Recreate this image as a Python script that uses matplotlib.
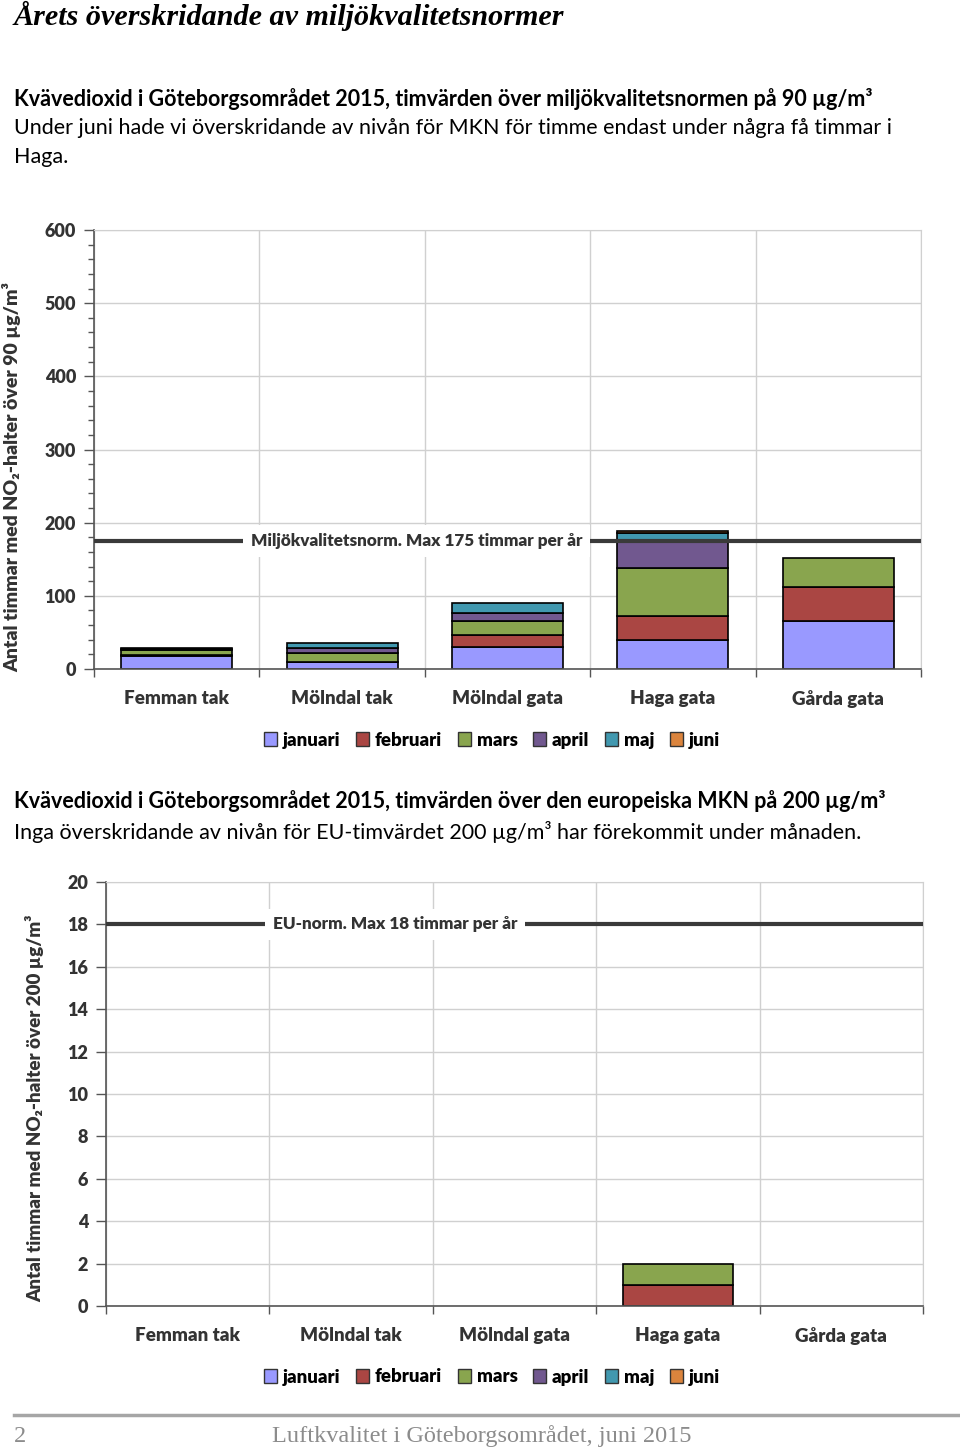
import numpy as np
import matplotlib
matplotlib.use("Agg")
import matplotlib.pyplot as plt
from matplotlib.patches import Patch

plt.rcParams['font.family'] = ['Lato', 'DejaVu Sans']

# ----------------------------------------------------------------------------------
# data
stations = ['Femman tak', 'Mölndal tak', 'Mölndal gata', 'Haga gata', 'Gårda gata']
months = ['januari', 'februari', 'mars', 'april', 'maj', 'juni']
month_colors = ['#9999FF', '#AA4643', '#89A54E', '#71588F', '#4198AF', '#DB843D']

# hours above 90 µg/m3
jan_90 = [18, 9, 30, 40, 65]
feb_90 = [1, 1, 17, 32, 47]
mar_90 = [7, 12, 19, 66, 40]
apr_90 = [2, 7, 11, 38, 0]
maj_90 = [1, 7, 13, 10, 0]
jun_90 = [0, 0, 0, 3, 0]

# hours above 200 µg/m3
jan_200 = [0, 0, 0, 0, 0]
feb_200 = [0, 0, 0, 1, 0]
mar_200 = [0, 0, 0, 1, 0]
apr_200 = [0, 0, 0, 0, 0]
maj_200 = [0, 0, 0, 0, 0]
jun_200 = [0, 0, 0, 0, 0]

mkn_norm = 175
eu_norm = 18

W, H = 960, 1452
TXT = '#333333'
BOLD = 'heavy'


def px_axes(fig, left, top, right, bottom):
    return fig.add_axes([left / W, 1 - bottom / H, (right - left) / W, (bottom - top) / H])


def draw_chart(ax, series, ymax, ystep, minor_step, norm, norm_label, label_x):
    x = np.arange(len(stations))
    bottom = np.zeros(len(stations))
    for vals, col in zip(series, month_colors):
        vals = np.array(vals, dtype=float)
        ax.bar(x, vals, width=0.67, bottom=bottom, color=col, edgecolor='black',
               linewidth=np.where(vals > 0, 1.2, 0), zorder=3)
        bottom += vals

    ax.set_xlim(-0.5, len(stations) - 0.5)
    ax.set_ylim(0, ymax)
    ax.set_yticks(np.arange(0, ymax + 1, ystep))
    if minor_step:
        ax.set_yticks(np.arange(0, ymax + 1, minor_step), minor=True)
    ax.set_xticks(x)
    ax.set_xticklabels(stations, fontweight=BOLD, fontsize=13.5, color=TXT)
    ax.set_xticks(np.arange(-0.5, len(stations), 1), minor=True)
    ax.tick_params(axis='x', which='major', length=0, pad=15)
    ax.tick_params(axis='x', which='minor', length=6, width=1, color='#555555', direction='out')
    ax.tick_params(axis='y', which='major', length=7, width=1, color='#555555', pad=6,
                   labelsize=13, labelcolor=TXT)
    ax.tick_params(axis='y', which='minor', length=4, width=1, color='#555555')
    for lab in ax.get_yticklabels():
        lab.set_fontweight(BOLD)

    ax.grid(axis='y', which='major', color='#d0d0d0', linewidth=1, zorder=0)
    ax.grid(axis='x', which='minor', color='#d0d0d0', linewidth=1, zorder=0)
    for s in ['top', 'right']:
        ax.spines[s].set_color('#d0d0d0')
    for s in ['left', 'bottom']:
        ax.spines[s].set_color('#555555')
        ax.spines[s].set_linewidth(1.2)
    ax.spines['bottom'].set_zorder(5)

    ax.axhline(norm, color='#3a3a3a', linewidth=3, zorder=4)
    ax.text(label_x, norm, norm_label, transform=ax.get_yaxis_transform(),
            ha='center', va='center', fontsize=12.3, fontweight=BOLD, color=TXT,
            bbox=dict(boxstyle='square,pad=0.45', facecolor='white', edgecolor='none'),
            zorder=6)


def draw_legend(fig, y):
    handles = [Patch(facecolor=c, edgecolor='#333333', linewidth=1) for c in month_colors]
    fig.legend(handles, months, loc='center', bbox_to_anchor=(492 / W, 1 - y / H), ncol=6,
               frameon=False, handlelength=0.7, handleheight=0.7, handletextpad=0.3,
               columnspacing=0.85, prop={'weight': BOLD, 'size': 13.4})


fig = plt.figure(figsize=(W / 100, H / 100), dpi=100)

# page texts
fig.text(14 / W, 1 - 16 / H, 'Årets överskridande av miljökvalitetsnormer', ha='left', va='center',
         fontsize=21.7, style='italic', fontweight='bold', family='Liberation Serif', color='black')
fig.text(14 / W, 1 - 99 / H,
         'Kvävedioxid i Göteborgsområdet 2015, timvärden över miljökvalitetsnormen på 90 µg/m³',
         ha='left', va='center', fontsize=15.5, fontweight='bold')
fig.text(14 / W, 1 - 128 / H,
         'Under juni hade vi överskridande av nivån för MKN för timme endast under några få timmar i',
         ha='left', va='center', fontsize=15.5)
fig.text(14 / W, 1 - 157 / H, 'Haga.', ha='left', va='center', fontsize=15.5)

fig.text(14 / W, 1 - 801 / H,
         'Kvävedioxid i Göteborgsområdet 2015, timvärden över den europeiska MKN på 200 µg/m³',
         ha='left', va='center', fontsize=15.5, fontweight='bold')
fig.text(14 / W, 1 - 832 / H,
         'Inga överskridande av nivån för EU-timvärdet 200 µg/m³ har förekommit under månaden.',
         ha='left', va='center', fontsize=15.5)

# chart 1
ax1 = px_axes(fig, 94, 230, 921, 669)
draw_chart(ax1, [jan_90, feb_90, mar_90, apr_90, maj_90, jun_90], 600, 100, 20,
           mkn_norm, 'Miljökvalitetsnorm. Max 175 timmar per år', 0.39)
fig.text(12 / W, 1 - 477 / H, 'Antal timmar med NO₂-halter över 90 µg/m³', rotation=90,
         ha='center', va='center', fontsize=14, fontweight=BOLD, color=TXT)
draw_legend(fig, 740)

# chart 2
ax2 = px_axes(fig, 106, 882, 923, 1306)
draw_chart(ax2, [jan_200, feb_200, mar_200, apr_200, maj_200, jun_200], 20, 2, None,
           eu_norm, 'EU-norm. Max 18 timmar per år', 0.354)
fig.text(35 / W, 1 - 1108 / H, 'Antal timmar med NO₂-halter över 200 µg/m³', rotation=90,
         ha='center', va='center', fontsize=13.5, fontweight=BOLD, color=TXT)
draw_legend(fig, 1377)

# footer
fig.add_artist(plt.Line2D([14 / W, 958 / W], [1 - 1415 / H, 1 - 1415 / H], color='#a6a6a6',
                          linewidth=2.5))
fig.text(14 / W, 1 - 1436 / H, '2', ha='left', va='center', fontsize=17.5,
         family='Liberation Serif', color='#8c8c8c')
fig.text(482 / W, 1 - 1436 / H, 'Luftkvalitet i Göteborgsområdet, juni 2015', ha='center',
         va='center', fontsize=17.5, family='Liberation Serif', color='#8c8c8c')

fig.savefig('out.png', dpi=100)
